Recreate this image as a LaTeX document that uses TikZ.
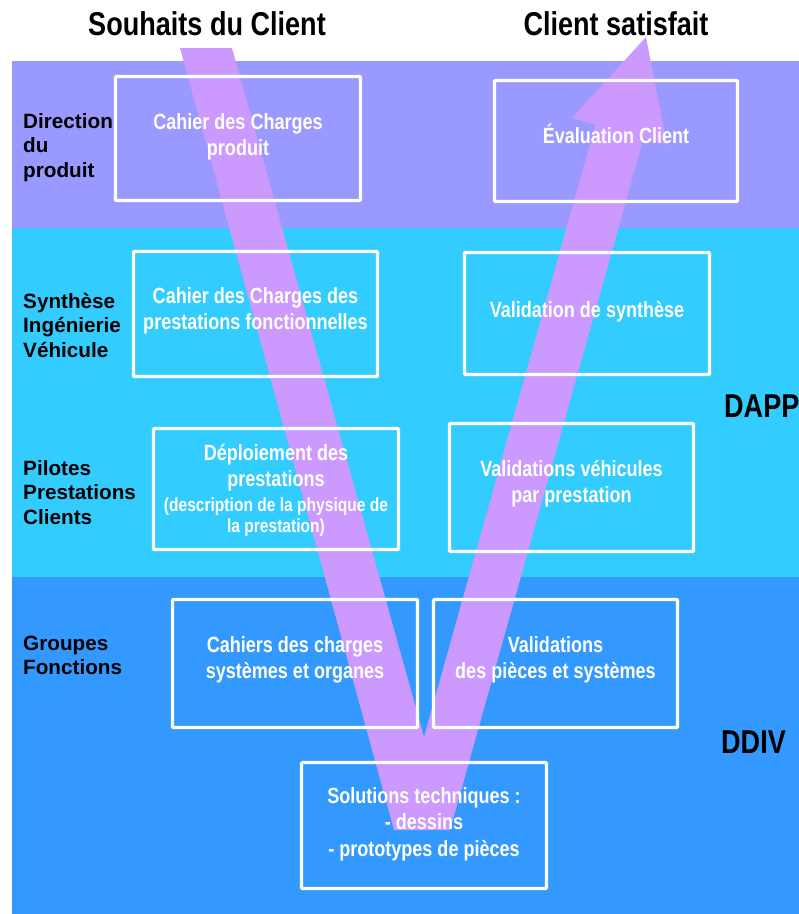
\documentclass[tikz,border=0pt]{standalone}
\usepackage{fontspec}
\setmainfont{Liberation Sans}
\newfontfamily\narrowfont{Liberation Sans}[FakeStretch=0.82]
\definecolor{lanetop}{HTML}{9999FF}
\definecolor{lanemid}{HTML}{33CCFF}
\definecolor{lanelow}{HTML}{3399FF}
\definecolor{vpurple}{HTML}{CC99FF}
\begin{document}
\begin{tikzpicture}[x=1pt,y=-1pt,
  lane/.style={fill=#1, draw=none},
  wbox/.style={draw=white, line width=3.2pt, rounded corners=1pt, inner sep=0pt, outer sep=0pt},
  wtext/.style={text=white, inner sep=0pt, anchor=base,
    font=\narrowfont\bfseries\fontsize{22}{26.5}\selectfont},
  side/.style={text=black, inner sep=0pt, anchor=base west,
    font=\bfseries\fontsize{20.7}{24.8}\selectfont},
  big/.style={text=black, inner sep=0pt,
    font=\narrowfont\bfseries\fontsize{33}{36}\selectfont}]
\useasboundingbox (0,0) rectangle (799,914);

% horizontal lanes
\fill[lane=lanetop] (12,61) rectangle (799,228);
\fill[lane=lanemid] (12,228) rectangle (799,577);
\fill[lane=lanelow] (12,577) rectangle (799,914);

% the V cycle, descending branch and rising arrow
\fill[vpurple] (180,48) -- (232,48) -- (424,737) -- (595.4,124.7)
  -- (571.9,118.1) -- (646,37) -- (667,144.7) -- (643.6,138.2)
  -- (450,830) -- (394,830) -- cycle;

% process boxes
\node[wbox, minimum width=245pt, minimum height=124pt] (b1) at (238,138.5) {};
\node[wbox, minimum width=243pt, minimum height=121pt] (b2) at (616,141) {};
\node[wbox, minimum width=244pt, minimum height=125pt] (b3) at (255.5,314) {};
\node[wbox, minimum width=245pt, minimum height=122pt] (b4) at (587,313.5) {};
\node[wbox, minimum width=245pt, minimum height=121pt] (b5) at (276,489) {};
\node[wbox, minimum width=244pt, minimum height=128pt] (b6) at (571.5,487.5) {};
\node[wbox, minimum width=245pt, minimum height=128pt] (b7) at (295,663.5) {};
\node[wbox, minimum width=244pt, minimum height=128pt] (b8) at (555.5,663.5) {};
\node[wbox, minimum width=245pt, minimum height=126pt] (b9) at (424,825.5) {};

% box texts
\node[wtext] (t1) at (238,129) {\begin{tabular}[t]{@{}c@{}}Cahier des Charges\\[-0.5pt]produit\end{tabular}};
\node[wtext] (t2) at (616,143) {Évaluation Client};
\node[wtext] (t3) at (255.5,303) {\begin{tabular}[t]{@{}c@{}}Cahier des Charges des\\prestations fonctionnelles\end{tabular}};
\node[wtext] (t4) at (587,317) {Validation de synthèse};
\node[wtext] (t5) at (276,460) {\begin{tabular}[t]{@{}c@{}}Déploiement des\\prestations\\[-1.5pt]
  \fontsize{19}{21}\selectfont(description de la physique de\\[-5.5pt]
  \fontsize{19}{21}\selectfont la prestation)\end{tabular}};
\node[wtext] (t6) at (571.5,476) {\begin{tabular}[t]{@{}c@{}}Validations véhicules\\par prestation\end{tabular}};
\node[wtext] (t7) at (295,652) {\begin{tabular}[t]{@{}c@{}}Cahiers des charges\\[-0.5pt]systèmes et organes\end{tabular}};
\node[wtext] (t8) at (555.5,652) {\begin{tabular}[t]{@{}c@{}}Validations\\[-0.5pt]des pièces et systèmes\end{tabular}};
\node[wtext] (t9) at (424,803) {\begin{tabular}[t]{@{}c@{}}Solutions techniques :\\- dessins\\- prototypes de pièces\end{tabular}};

% lane labels
\node[side] (l1) at (23,128) {\begin{tabular}[t]{@{}l@{}}Direction\\du\\produit\end{tabular}};
\node[side] (l2) at (23,308) {\begin{tabular}[t]{@{}l@{}}Synthèse\\Ingénierie\\Véhicule\end{tabular}};
\node[side] (l3) at (23,475) {\begin{tabular}[t]{@{}l@{}}Pilotes\\Prestations\\Clients\end{tabular}};
\node[side] (l4) at (23,650) {\begin{tabular}[t]{@{}l@{}}Groupes\\Fonctions\end{tabular}};

% headings and department names
\node[big, anchor=base] (start) at (207,35) {Souhaits du Client};
\node[big, anchor=base] (goal) at (616,35) {Client satisfait};
\node[big, anchor=base west] (dapp) at (724,417) {DAPP};
\node[big, anchor=base west] (ddiv) at (721,753) {DDIV};
\end{tikzpicture}
\end{document}
